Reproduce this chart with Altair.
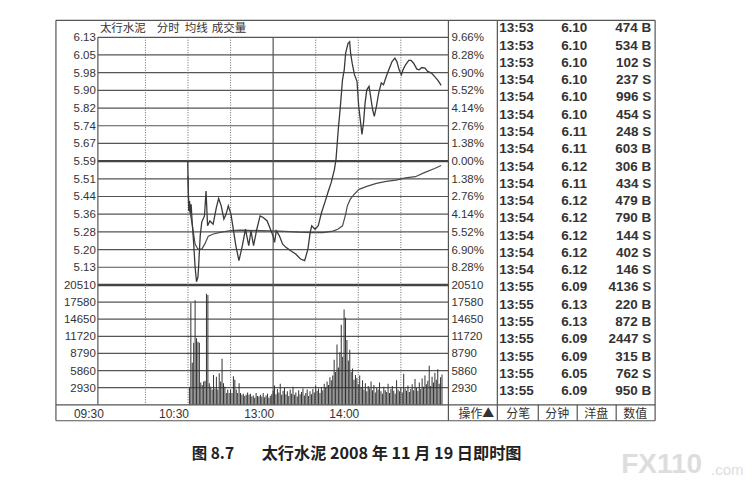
import altair as alt
import pandas as pd

# ---------------- data ----------------
PREV_CLOSE = 5.59
PCT_STEPS = [9.66, 8.28, 6.90, 5.52, 4.14, 2.76, 1.38, 0.00, -1.38, -2.76, -4.14, -5.52, -6.90, -8.28]
PRICE_LABELS = ["6.13", "6.05", "5.98", "5.90", "5.82", "5.74", "5.67", "5.59",
                "5.51", "5.44", "5.36", "5.28", "5.20", "5.13"]
PCT_LABELS = ["9.66%", "8.28%", "6.90%", "5.52%", "4.14%", "2.76%", "1.38%", "0.00%",
              "1.38%", "2.76%", "4.14%", "5.52%", "6.90%", "8.28%"]
FLOOR_PCT = -9.66
VOL_LEVELS = [20510, 17580, 14650, 11720, 8790, 5860, 2930]
VOL_LABELS = ["20510", "17580", "14650", "11720", "8790", "5860", "2930"]
TIME_TICKS = [0, 60, 120, 180]
TIME_LABELS = ["09:30", "10:30", "13:00", "14:00"]
DOTTED_MIN = [30, 60, 90, 150, 180, 210]
MIDDAY_MIN = [120]

PRICE_MIN = [59.8, 60.0, 60.5, 61.1, 61.7, 62.2, 62.9, 64.1, 65.0, 66.0,
             67.0, 67.5, 68.6, 69.7, 71.6, 72.7, 73.8, 75.4, 77.7, 80.0,
             81.6, 83.4, 85.3, 86.8, 88.4, 90.3, 92.1, 93.7, 95.9, 98.3,
             100.5, 102.8, 104.4, 106.2, 108.5, 110.8, 113.0, 115.8, 117.6, 119.9,
             121.0, 122.2, 124.4, 126.7, 129.0, 132.4, 135.9, 139.3, 142.2, 144.5,
             146.1, 147.2, 149.5, 151.8, 154.1, 156.4, 158.6, 160.9, 163.2, 164.3,
             165.9, 167.3, 168.9, 170.1, 171.1, 172.8, 173.9, 174.6, 175.7, 177.3,
             179.1, 180.3, 181.4, 182.6, 183.7, 184.8, 186.0, 187.6, 188.7, 190.1,
             191.3, 192.8, 194.4, 196.2, 197.8, 199.7, 201.5, 203.8, 205.8, 207.2,
             208.8, 210.4, 211.5, 213.3, 215.6, 217.2, 219.0, 221.3, 222.9, 224.8,
             227.0, 228.9, 231.6, 233.4, 235.7, 237.3, 238.4]
PRICE = [5.589, 5.524, 5.372, 5.416, 5.363, 5.402, 5.328, 5.221, 5.128, 5.064,
         5.085, 5.134, 5.264, 5.324, 5.351, 5.460, 5.308, 5.329, 5.315, 5.388,
         5.427, 5.395, 5.337, 5.358, 5.395, 5.358, 5.286, 5.221, 5.156, 5.221,
         5.293, 5.221, 5.286, 5.221, 5.293, 5.351, 5.344, 5.329, 5.301, 5.264,
         5.236, 5.286, 5.264, 5.228, 5.214, 5.199, 5.185, 5.163, 5.156, 5.206,
         5.279, 5.308, 5.293, 5.308, 5.366, 5.409, 5.453, 5.496, 5.554, 5.597,
         5.728, 5.822, 5.945, 5.988, 6.061, 6.104, 6.111, 6.061, 6.017, 5.967,
         5.938, 5.829, 5.771, 5.706, 5.757, 5.844, 5.901, 5.916, 5.872, 5.815,
         5.785, 5.829, 5.887, 5.931, 5.923, 5.959, 5.988, 6.024, 6.039, 6.024,
         5.988, 5.967, 5.988, 6.010, 6.029, 6.029, 6.017, 5.991, 5.988, 5.998,
         5.996, 5.981, 5.974, 5.962, 5.945, 5.931, 5.920]

AVG_MIN = [60.0, 60.5, 62.9, 65.0, 67.0, 69.7, 71.8, 74.3, 77.9, 83.4,
           90.3, 97.1, 110.8, 124.4, 138.1, 147.0, 155.2, 162.1, 165.5, 168.9,
           171.1, 172.3, 174.4, 177.1, 180.5, 186.0, 192.8, 199.7, 206.5, 213.3,
           220.2, 227.0, 233.8, 238.4]
AVG = [5.524, 5.402, 5.315, 5.228, 5.206, 5.206, 5.228, 5.263, 5.272, 5.280,
       5.287, 5.289, 5.287, 5.285, 5.280, 5.278, 5.278, 5.285, 5.293, 5.308,
       5.358, 5.395, 5.424, 5.445, 5.467, 5.480, 5.493, 5.502, 5.507, 5.517,
       5.522, 5.541, 5.558, 5.571]

VOL_START = 61
VOLUME = [3000,
          17400, 7200, 10600, 17900, 11400, 10800, 10600, 3800, 3400, 4000, 4100, 19000, 18800,
          3700, 3100, 2600, 5100, 2800, 4800, 2600, 5400, 4000, 7900,
          3700, 3100, 2000, 2600, 2000, 2600, 2000, 4900, 4300, 2600,
          2000, 3700, 2000, 1700, 1900, 1500, 1700, 2100, 1700, 1900,
          1400, 1600, 1200, 2000, 1500, 1400,
          1700, 1400, 2000, 1300, 1600, 1900, 1200, 1500, 1800,
          2400, 3300, 1800, 2700, 2100, 3600, 1700, 2400, 2900, 1800,
          2300, 1500, 2600, 1900, 3100, 1700, 2100, 1400, 2500, 1800,
          2200, 2800, 1600, 2000, 2600, 1500, 2300, 1800, 2700, 2100,
          3300, 2400, 2800, 2000, 3000, 2500, 3600, 2900, 4000, 3400, 4700,
          4200, 5000, 7700, 5600, 10300, 6400, 9000, 13700, 8200, 16300,
          14900, 11100, 7600, 9400, 5600, 6200, 4300, 5100,
          4600, 3500, 5000, 3000, 4200, 2600, 3700, 2300, 3200, 2800,
          4000, 2500, 3400, 2100, 2900, 2600, 3800, 2300, 1900, 3100,
          2500, 2200, 3600, 2000, 2700, 3200, 2400, 1900, 4200, 2600,
          2300, 3000, 2100, 5300, 2800, 2400, 3300, 2200, 2700, 3500,
          2500, 4400, 2900, 2400, 3800, 2700, 4500, 3100, 5000, 3500,
          4100, 6700, 3200, 4800, 3800, 5500, 4300, 6100, 3600, 4700, 5200]

TRADE_TIME = ["13:53", "13:53", "13:53", "13:54", "13:54", "13:54", "13:54", "13:54",
              "13:54", "13:54", "13:54", "13:54", "13:54", "13:54", "13:54", "13:55",
              "13:55", "13:55", "13:55", "13:55", "13:55", "13:55"]
TRADE_PRICE = ["6.10", "6.10", "6.10", "6.10", "6.10", "6.10", "6.11", "6.11",
               "6.12", "6.11", "6.12", "6.12", "6.12", "6.12", "6.12", "6.09",
               "6.13", "6.13", "6.09", "6.09", "6.05", "6.09"]
TRADE_VOL = [474, 534, 102, 237, 996, 454, 248, 603, 306, 434, 479, 790, 144, 402, 146,
             4136, 220, 872, 2447, 315, 762, 950]
TRADE_SIDE = ["B", "B", "S", "S", "S", "S", "S", "B", "B", "S", "B", "B", "S", "S", "S",
              "S", "B", "B", "S", "B", "S", "B"]
TITLE_PARTS = ["太行水泥", "分时", "均线", "成交量"]
TABS = ["分笔", "分钟", "洋盘", "数值"]
OP_LABEL = "操作▲"
CAPTION_NO = "图 8.7"
CAPTION_TEXT = "太行水泥 2008 年 11 月 19 日即时图"

# ---------------- layout ----------------
X0, Y0 = 98, 37          # plot origin on the page
W, H = 351, 368          # plot area (price + volume)
PRICE_H = 248
VOL_H = H - PRICE_H
NUM_FONT = "Liberation Sans"
CJK_FONT = "Noto Sans CJK SC"
TXT = "#333333"
GRID = "#555555"

p_top = PREV_CLOSE * (1 + PCT_STEPS[0] / 100)
p_floor = PREV_CLOSE * (1 + FLOOR_PCT / 100)
p_low = p_floor - (p_top - p_floor) * VOL_H / PRICE_H
vol_top = VOL_LEVELS[0] * H / VOL_H

XS = alt.Scale(domain=[0, 240], nice=False, zero=False)
PS = alt.Scale(domain=[p_low, p_top], nice=False, zero=False)
VS = alt.Scale(domain=[0, vol_top], nice=False, zero=False)

ROW0_Y, ROW_STEP = 28, 17.3
r0 = (Y0 - ROW0_Y) / ROW_STEP
RS = alt.Scale(domain=[r0, r0 + H / ROW_STEP], reverse=True, nice=False, zero=False)

ONE = pd.DataFrame({"k": [0]})


def rule_px(x1, y1, x2, y2, color="#555555", width=1.0):
    return alt.Chart(ONE).mark_rule(color=color, strokeWidth=width).encode(
        x=alt.value(x1 - X0), y=alt.value(y1 - Y0),
        x2=alt.value(x2 - X0), y2=alt.value(y2 - Y0))


def text_px(s, x, y, size=12, align="left", weight="normal", font=CJK_FONT, color=TXT):
    return alt.Chart(ONE).mark_text(text=s, align=align, baseline="middle", fontSize=size,
                                    fontWeight=weight, font=font, color=color).encode(
        x=alt.value(x - X0), y=alt.value(y - Y0))


levels = [PREV_CLOSE * (1 + p / 100) for p in PCT_STEPS]
grid_df = pd.DataFrame({"p": levels, "lab": PRICE_LABELS, "pct": PCT_LABELS,
                        "zero": [p == 0 for p in PCT_STEPS]})
vol_df = pd.DataFrame({"v": VOL_LEVELS, "lab": VOL_LABELS})

layers = []
# horizontal price grid
layers.append(alt.Chart(grid_df[~grid_df["zero"]]).mark_rule(color=GRID, strokeWidth=1.2).encode(
    y=alt.Y("p:Q", scale=PS, axis=None)))
layers.append(alt.Chart(grid_df[grid_df["zero"]]).mark_rule(color="#444444", strokeWidth=2.2).encode(
    y=alt.Y("p:Q", scale=PS, axis=None)))
# volume grid
layers.append(alt.Chart(vol_df.iloc[1:]).mark_rule(color=GRID, strokeWidth=1.2).encode(
    y=alt.Y("v:Q", scale=VS, axis=None)))
layers.append(alt.Chart(vol_df.iloc[:1]).mark_rule(color="#444444", strokeWidth=2.4).encode(
    y=alt.Y("v:Q", scale=VS, axis=None)))
# vertical grid
layers.append(alt.Chart(pd.DataFrame({"m": DOTTED_MIN})).mark_rule(
    color="#666666", strokeWidth=1, strokeDash=[1, 1.5]).encode(x=alt.X("m:Q", scale=XS, axis=None)))
layers.append(alt.Chart(pd.DataFrame({"m": MIDDAY_MIN})).mark_rule(
    color=GRID, strokeWidth=1.2).encode(x=alt.X("m:Q", scale=XS, axis=None)))

# volume bars
bars_df = pd.DataFrame({"m": [VOL_START + i for i in range(len(VOLUME))], "v": VOLUME})
layers.append(alt.Chart(bars_df).mark_bar(size=1, color="#333333").encode(
    x=alt.X("m:Q", scale=XS, axis=None), y=alt.Y("v:Q", scale=VS, axis=None)))

# average and price lines
layers.append(alt.Chart(pd.DataFrame({"m": AVG_MIN, "p": AVG})).mark_line(
    color="#4a4a4a", strokeWidth=1.2).encode(
    x=alt.X("m:Q", scale=XS, axis=None), y=alt.Y("p:Q", scale=PS, axis=None)))
layers.append(alt.Chart(pd.DataFrame({"m": PRICE_MIN, "p": PRICE})).mark_line(
    color="#3a3a3a", strokeWidth=1.3).encode(
    x=alt.X("m:Q", scale=XS, axis=None), y=alt.Y("p:Q", scale=PS, axis=None)))

# axis labels
lab_style = dict(baseline="middle", fontSize=11.5, font=NUM_FONT, color=TXT, dy=1)
layers.append(alt.Chart(grid_df).mark_text(align="right", **lab_style).encode(
    x=alt.value(96 - X0), y=alt.Y("p:Q", scale=PS, axis=None), text="lab:N"))
layers.append(alt.Chart(grid_df).mark_text(align="left", **lab_style).encode(
    x=alt.value(452 - X0), y=alt.Y("p:Q", scale=PS, axis=None), text="pct:N"))
layers.append(alt.Chart(vol_df).mark_text(align="right", **lab_style).encode(
    x=alt.value(96 - X0), y=alt.Y("v:Q", scale=VS, axis=None), text="lab:N"))
layers.append(alt.Chart(vol_df).mark_text(align="left", **lab_style).encode(
    x=alt.value(452 - X0), y=alt.Y("v:Q", scale=VS, axis=None), text="lab:N"))
layers.append(alt.Chart(pd.DataFrame({"m": TIME_TICKS, "lab": TIME_LABELS})).mark_text(
    align="center", baseline="middle", fontSize=12, font=NUM_FONT, color=TXT, dx=-14).encode(
    x=alt.X("m:Q", scale=XS, axis=None), y=alt.value(414 - Y0), text="lab:N"))

# trade table
tdf = pd.DataFrame({"row": list(range(len(TRADE_TIME))), "t": TRADE_TIME, "p": TRADE_PRICE,
                    "v": [f"{v} {s}" for v, s in zip(TRADE_VOL, TRADE_SIDE)]})
tstyle = dict(baseline="middle", fontSize=13.5, font=NUM_FONT, fontWeight="bold", color="#333333")
layers.append(alt.Chart(tdf).mark_text(align="left", **tstyle).encode(
    x=alt.value(500 - X0), y=alt.Y("row:Q", scale=RS, axis=None), text="t:N"))
layers.append(alt.Chart(tdf).mark_text(align="center", **tstyle).encode(
    x=alt.value(575 - X0), y=alt.Y("row:Q", scale=RS, axis=None), text="p:N"))
layers.append(alt.Chart(tdf).mark_text(align="right", **tstyle).encode(
    x=alt.value(652 - X0), y=alt.Y("row:Q", scale=RS, axis=None), text="v:N"))

# frame
FRAME = [(56, 20, 656, 20), (56, 20, 56, 421), (656, 20, 656, 421), (56, 421, 656, 421),
         (56, 405, 656, 405), (449, 20, 449, 421), (498, 20, 498, 421), (98, 37, 98, 405),
         (539, 405, 539, 421), (578, 405, 578, 421), (617, 405, 617, 421)]
for f in FRAME:
    layers.append(rule_px(*f, color="#555555", width=1.2))

# title, tabs, caption, watermark
for s, x in zip(TITLE_PARTS, [100, 157, 185, 212]):
    layers.append(text_px(s, x, 29, size=11.5))
layers.append(text_px(OP_LABEL, 477, 414, size=12, align="center"))
for s, x in zip(TABS, [519, 558, 597, 636]):
    layers.append(text_px(s, x, 414, size=12, align="center"))
layers.append(text_px(CAPTION_NO, 192, 454, size=15.5, weight="bold", color="#222222"))
layers.append(text_px(CAPTION_TEXT, 262, 454, size=16.2, weight="bold", color="#222222"))
layers.append(text_px("FX110", 622, 465, size=28, weight="bold", font=NUM_FONT, color="#dddddd"))
layers.append(text_px(".com", 712, 470, size=15, font=NUM_FONT, color="#dddddd"))

chart = alt.layer(*layers).resolve_scale(y="independent").properties(
    width=W, height=H,
    padding={"left": X0 - 8, "top": Y0 - 8, "right": 300, "bottom": 78},
    autosize=alt.AutoSizeParams(type="none"),
    background="white",
).configure_view(stroke="transparent")

chart.save("out.html", embed_options={"renderer": "svg", "actions": False})
